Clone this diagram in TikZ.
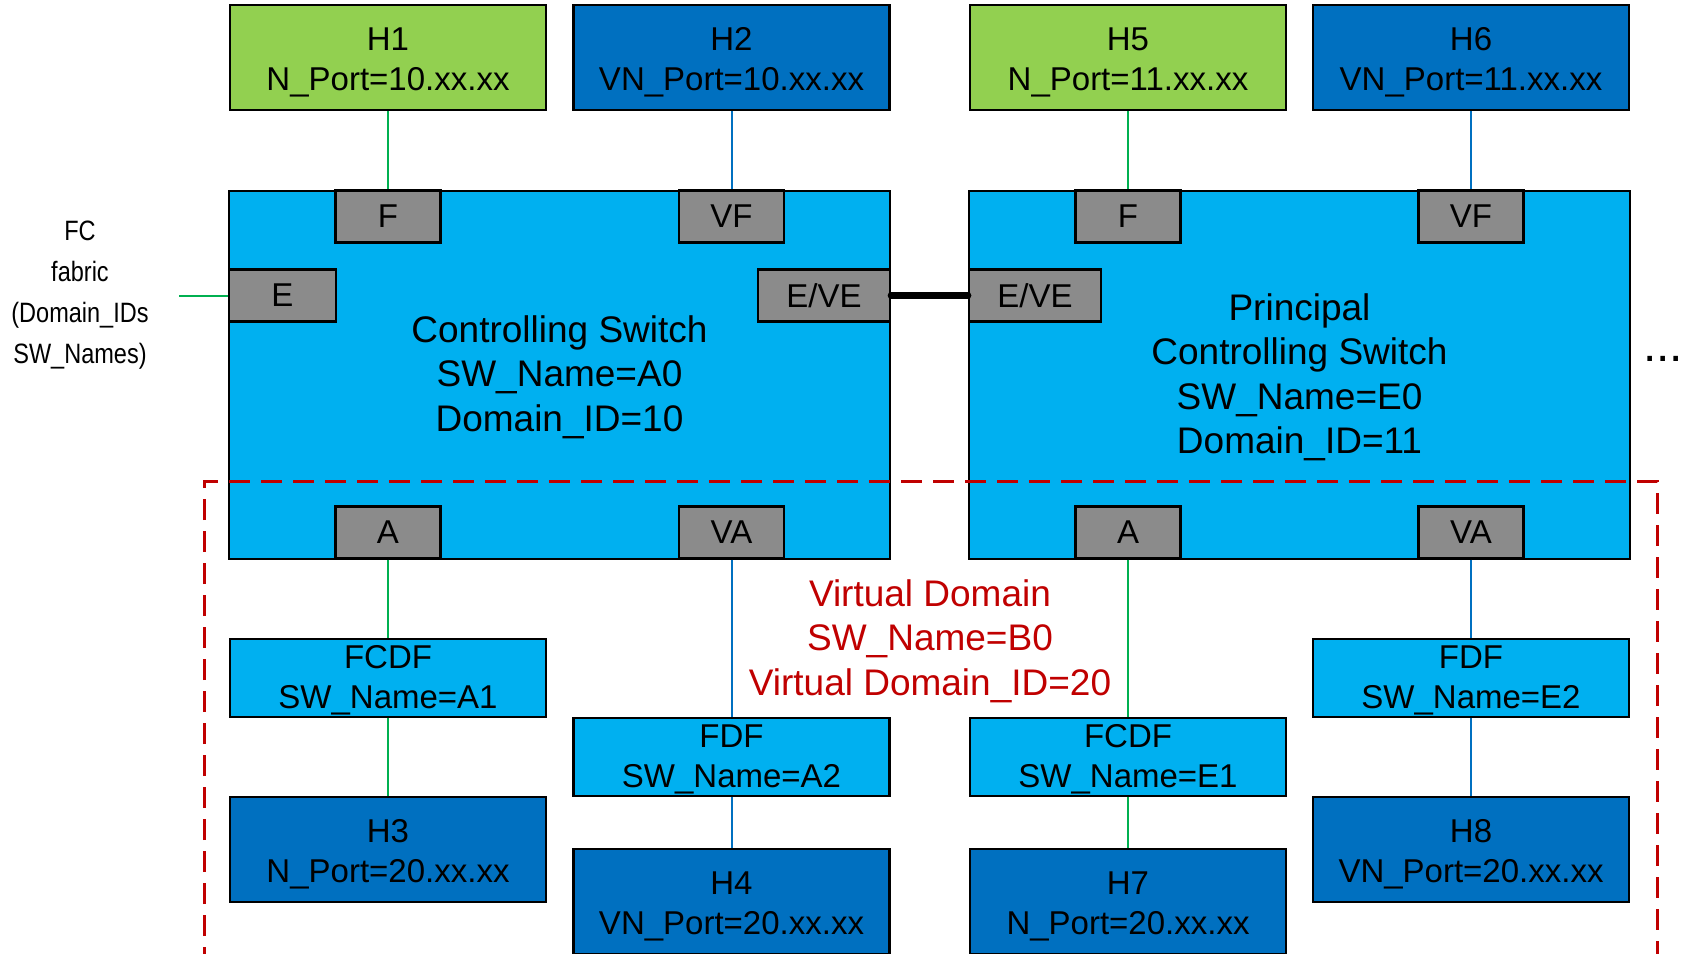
\documentclass[tikz,border=0pt]{standalone}
\usepackage{fontspec}
\setmainfont{Liberation Sans}
\newfontfamily\narrowfont[FakeStretch=0.84]{Liberation Sans}
\definecolor{hostgreen}{RGB}{146,208,80}
\definecolor{hostblue}{RGB}{0,112,192}
\definecolor{swblue}{RGB}{0,176,240}
\definecolor{portgray}{RGB}{139,139,139}
\definecolor{linegreen}{RGB}{0,176,80}
\definecolor{lineblue}{RGB}{0,112,192}
\definecolor{vdred}{RGB}{192,0,0}
% struts that give the first text line a little extra room above it
\newcommand\hoststrut{\rule{0pt}{32pt}}
\newcommand\swstrut{\rule{0pt}{31pt}}
\newcommand\fdfstrut{\rule{0pt}{28pt}}
\tikzset{
  box/.style={draw=black, line width=2.3pt, inner sep=0pt, align=center,
    font=\fontsize{33}{39.6}\selectfont},
  hostg/.style={box, fill=hostgreen, minimum width=316pt, minimum height=105pt},
  hostb/.style={box, fill=hostblue, minimum width=316pt, minimum height=105pt},
  switchbox/.style={box, fill=swblue, minimum width=661pt, minimum height=368pt,
    font=\fontsize{37}{44.4}\selectfont},
  portbox/.style={box, fill=portgray, minimum height=52pt},
  fdfbox/.style={box, fill=swblue, minimum width=316pt, minimum height=78pt},
  gline/.style={draw=linegreen, line width=2pt},
  bline/.style={draw=lineblue, line width=2pt},
  isl/.style={draw=black, line width=7pt, line cap=round},
  vdomain/.style={draw=vdred, line width=3pt, dash pattern=on 21pt off 11pt},
}
\begin{document}
\begin{tikzpicture}[x=1pt, y=-1pt]
\clip (0,0) rectangle (1681,953);
\fill[white] (0,0) rectangle (1681,953);

% switches
\node[switchbox] (swA) at (559.5,375) {\swstrut Controlling Switch\\SW\_Name=A0\\Domain\_ID=10};
\node[switchbox] (swE) at (1299.5,375) {\swstrut Principal\\Controlling Switch\\SW\_Name=E0\\Domain\_ID=11};

% switch ports
\node[portbox, minimum width=105pt] (fA)  at (388,216.5) {F};
\node[portbox, minimum width=105pt] (vfA) at (731.5,216.5) {VF};
\node[portbox, minimum width=107pt] (eA)  at (282.5,295.5) {E};
\node[portbox, minimum width=132pt] (veA) at (824,295.5) {E/VE};
\node[portbox, minimum width=105pt] (aA)  at (388,532.5) {A};
\node[portbox, minimum width=105pt] (vaA) at (731.5,532.5) {VA};

\node[portbox, minimum width=105pt] (fE)  at (1128,216.5) {F};
\node[portbox, minimum width=105pt] (vfE) at (1471,216.5) {VF};
\node[portbox, minimum width=132pt] (veE) at (1035,295.5) {E/VE};
\node[portbox, minimum width=105pt] (aE)  at (1128,532.5) {A};
\node[portbox, minimum width=105pt] (vaE) at (1471,532.5) {VA};

% hosts on the top row
\node[hostg] (h1) at (388,57.5)   {\hoststrut H1\\N\_Port=10.xx.xx};
\node[hostb] (h2) at (731.5,57.5) {\hoststrut H2\\VN\_Port=10.xx.xx};
\node[hostg] (h5) at (1128,57.5)  {\hoststrut H5\\N\_Port=11.xx.xx};
\node[hostb] (h6) at (1471,57.5)  {\hoststrut H6\\VN\_Port=11.xx.xx};

% FCDF / FDF switches
\node[fdfbox] (a1) at (388,678)   {\fdfstrut FCDF\\SW\_Name=A1};
\node[fdfbox] (a2) at (731.5,757) {\fdfstrut FDF\\SW\_Name=A2};
\node[fdfbox] (e1) at (1128,757)  {\fdfstrut FCDF\\SW\_Name=E1};
\node[fdfbox] (e2) at (1471,678)  {\fdfstrut FDF\\SW\_Name=E2};

% hosts on the bottom row
\node[hostb] (h3) at (388,849.5)   {\hoststrut H3\\N\_Port=20.xx.xx};
\node[hostb] (h4) at (731.5,901.5) {\hoststrut H4\\VN\_Port=20.xx.xx};
\node[hostb] (h7) at (1128,901.5)  {\hoststrut H7\\N\_Port=20.xx.xx};
\node[hostb] (h8) at (1471,849.5)  {\hoststrut H8\\VN\_Port=20.xx.xx};

% links
\draw[gline] (h1.south) -- (fA.north);
\draw[bline] (h2.south) -- (vfA.north);
\draw[gline] (h5.south) -- (fE.north);
\draw[bline] (h6.south) -- (vfE.north);

\draw[gline] (aA.south) -- (a1.north);
\draw[gline] (a1.south) -- (h3.north);
\draw[bline] (vaA.south) -- (a2.north);
\draw[bline] (a2.south) -- (h4.north);
\draw[gline] (aE.south) -- (e1.north);
\draw[gline] (e1.south) -- (h7.north);
\draw[bline] (vaE.south) -- (e2.north);
\draw[bline] (e2.south) -- (h8.north);

\draw[isl] (veA.east) -- (veE.west);

\coordinate (fabricend) at (179,295.5);
\draw[gline] (fabricend) -- (eA.west);
\node[align=center, font=\narrowfont\fontsize{28}{41}\selectfont] (fabric) at (80,295)
  {FC\\fabric\\(Domain\_IDs\\SW\_Names)};

\node[anchor=base, font=\fontsize{48}{50}\selectfont, inner sep=0pt] (more) at (1663,361.5) {...};

% virtual domain
\draw[vdomain] (204,1000) -- (204,481) -- (1657,481) -- (1657,1000);
\node[align=center, text=vdred, font=\fontsize{37}{44.4}\selectfont] (vd) at (930,641)
  {Virtual Domain\\SW\_Name=B0\\Virtual Domain\_ID=20};
\end{tikzpicture}
\end{document}
